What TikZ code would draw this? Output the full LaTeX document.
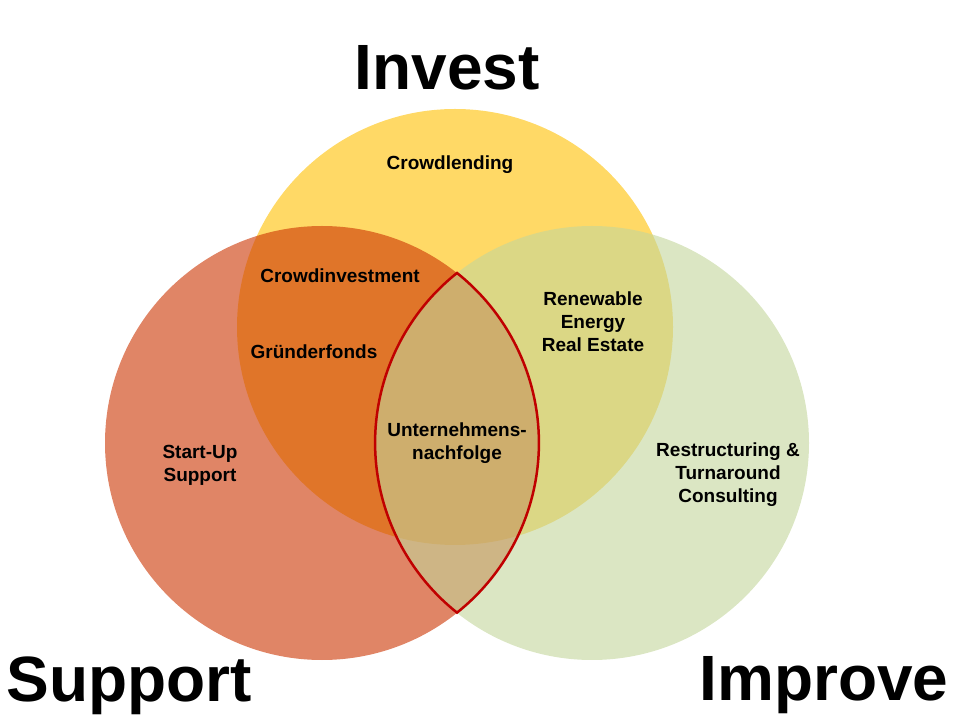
\documentclass[tikz,border=0pt]{standalone}
\usepackage{fontspec}
\setmainfont{Liberation Sans}
\definecolor{investgold}{HTML}{FFC000}
\definecolor{supportred}{HTML}{CC3300}
\definecolor{improvegreen}{HTML}{C3D69B}
\definecolor{lensred}{HTML}{C00000}
\begin{document}
\begin{tikzpicture}[x=1pt,y=1pt,
  blob/.style={fill opacity=0.6},
  title/.style={font=\fontsize{64}{64}\selectfont\bfseries, anchor=base, inner sep=0pt},
  area/.style={font=\fontsize{19}{23}\selectfont\bfseries, align=center, inner sep=0pt}]
\useasboundingbox (0,0) rectangle (960,720);
\fill[investgold, blob] (455,393) circle (218);
\fill[supportred, blob] (322,277) circle (217);
\fill[improvegreen, blob] (592,277) circle (217);
\draw[lensred, line width=2.5pt, line join=miter] (457,447)
      arc[start angle=128.5, end angle=231.5, radius=217]
      arc[start angle=-51.5, end angle=51.5, radius=217] -- cycle;
\node[title] (invest) at (447,630) {Invest};
\node[title] (support) at (129,19) {Support};
\node[title] (improve) at (824,20) {Improve};
\node[area] (lending) at (450,555) {Crowdlending};
\node[area] (crowdinv) at (340,444) {Crowdinvestment};
\node[area] (fonds) at (314,368) {Gründerfonds};
\node[area] (startup) at (200,254.5) {Start-Up\\Support};
\node[area] (nachfolge) at (457,276.5) {Unternehmens-\\nachfolge};
\node[area] (renewable) at (593,398.5) {Renewable\\Energy\\Real Estate};
\node[area] (restruct) at (728,245.5) {Restructuring \&\\Turnaround\\Consulting};
\end{tikzpicture}
\end{document}
